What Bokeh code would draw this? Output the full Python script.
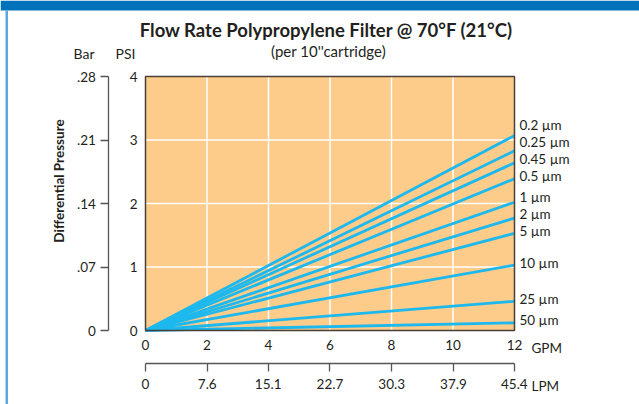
from bokeh.plotting import figure
from bokeh.models import (Range1d, LinearAxis, FixedTicker, Label, LabelSet,
                          ColumnDataSource, BoxAnnotation)
from bokeh.core.properties import value
from bokeh.embed import file_html
from bokeh.resources import INLINE

# ---------------- data ----------------
flow_gpm = [0, 12]                      # GPM at line start / end
grades = ["0.2 µm", "0.25 µm", "0.45 µm", "0.5 µm", "1 µm",
          "2 µm", "5 µm", "10 µm", "25 µm", "50 µm"]
psi_at_0gpm = [0, 0, 0, 0, 0, 0, 0, 0, 0, 0]
psi_at_12gpm = [3.07, 2.83, 2.64, 2.39, 2.02, 1.77, 1.53, 1.03, 0.46, 0.12]

psi_ticks = [0, 1, 2, 3, 4]
bar_ticks = [0, 0.07, 0.14, 0.21, 0.28]
bar_tick_labels = ["0", ".07", ".14", ".21", ".28"]
gpm_ticks = [0, 2, 4, 6, 8, 10, 12]
lpm_ticks = [0, 7.6, 15.1, 22.7, 30.3, 37.9, 45.4]
lpm_tick_labels = ["0", "7.6", "15.1", "22.7", "30.3", "37.9", "45.4"]
GPM_TO_LPM = 3.785
PSI_TO_BAR = 0.07

TITLE = "Flow Rate Polypropylene Filter @ 70°F (21°C)"
SUBTITLE = "(per 10''cartridge)"

# ---------------- style / layout ----------------
FONT = "Lato"
TXT = "#231f20"
ORANGE = "#FDCB8A"
CYAN = "#1DB9EE"
DARK = "#4a4038"
AXC = "#555555"
TICK_FS = "13.5px"

W, H = 639, 404
FL, FR, FT, FB = 145, 514, 76, 330          # plot area in canvas pixels
x_max = flow_gpm[-1]
y_max = psi_ticks[-1]
ppx = (FR - FL) / x_max
ppy = (FB - FT) / y_max


def X(px):
    return (px - FL) / ppx


def Y(py):
    return (FB - py) / ppy


x0, x1 = X(0), X(W)
y0, y1 = Y(H), Y(0)

p = figure(width=W, height=H, x_range=Range1d(x0, x1), y_range=Range1d(y0, y1),
           output_backend="svg", toolbar_location=None,
           min_border_left=0, min_border_right=0, min_border_top=0, min_border_bottom=0,
           background_fill_color="white", border_fill_color="white",
           outline_line_color=None)
p.title.visible = False
p.grid.visible = False

# plot area
p.quad(left=[0], right=[x_max], bottom=[0], top=[y_max], fill_color=ORANGE, line_color=None)
p.segment(x0=gpm_ticks[1:-1], y0=[0] * 5, x1=gpm_ticks[1:-1], y1=[y_max] * 5,
          line_color="white", line_width=1.5)
p.segment(x0=[0] * 3, y0=psi_ticks[1:-1], x1=[x_max] * 3, y1=psi_ticks[1:-1],
          line_color="white", line_width=1.5)

# lines
p.multi_line(xs=[flow_gpm] * len(grades),
             ys=[[a, b] for a, b in zip(psi_at_0gpm, psi_at_12gpm)],
             line_color=CYAN, line_width=2.8)

# frame outline
p.quad(left=[0], right=[x_max], bottom=[0], top=[y_max], fill_color=None,
       line_color=DARK, line_width=1.5)

# PSI axis (at the plot-area edge)
ya = p.yaxis[0]
ya.fixed_location = 0
ya.bounds = (0, y_max)
ya.ticker = FixedTicker(ticks=psi_ticks)
ya.axis_line_color = None
ya.major_tick_out = 0
ya.major_tick_in = 0
ya.minor_tick_out = 0
ya.minor_tick_in = 0
ya.major_label_standoff = 8
ya.major_label_text_font = FONT
ya.major_label_text_font_size = TICK_FS
ya.major_label_text_color = TXT

# Bar axis
p.extra_y_ranges = {"bar": Range1d(y0 * PSI_TO_BAR, y1 * PSI_TO_BAR)}
bar_axis = LinearAxis(y_range_name="bar", ticker=FixedTicker(ticks=bar_ticks),
                      fixed_location=X(108.3), bounds=(0, y_max * PSI_TO_BAR),
                      major_label_overrides=dict(zip(bar_ticks, bar_tick_labels)),
                      major_tick_out=8, major_tick_in=0, minor_tick_out=0, minor_tick_in=0,
                      axis_line_color=AXC, major_tick_line_color=AXC,
                      axis_line_width=1.3, major_tick_line_width=1.3,
                      major_label_standoff=5, major_label_text_font=FONT,
                      major_label_text_font_size=TICK_FS, major_label_text_color=TXT)
p.add_layout(bar_axis, "left")

# GPM axis
xa = p.xaxis[0]
xa.fixed_location = 0
xa.bounds = (0, x_max)
xa.ticker = FixedTicker(ticks=gpm_ticks)
xa.axis_line_color = None
xa.major_tick_out = 0
xa.major_tick_in = 0
xa.minor_tick_out = 0
xa.minor_tick_in = 0
xa.major_label_standoff = 9
xa.major_label_text_font = FONT
xa.major_label_text_font_size = TICK_FS
xa.major_label_text_color = TXT

# LPM axis
p.extra_x_ranges = {"lpm": Range1d(x0 * GPM_TO_LPM, x1 * GPM_TO_LPM)}
lpm_axis = LinearAxis(x_range_name="lpm", ticker=FixedTicker(ticks=lpm_ticks),
                      fixed_location=Y(363), bounds=(0, x_max * GPM_TO_LPM),
                      major_label_overrides=dict(zip(lpm_ticks, lpm_tick_labels)),
                      major_tick_out=8, major_tick_in=0, minor_tick_out=0, minor_tick_in=0,
                      axis_line_color=AXC, major_tick_line_color=AXC,
                      axis_line_width=1.3, major_tick_line_width=1.3,
                      major_label_standoff=7, major_label_text_font=FONT,
                      major_label_text_font_size=TICK_FS, major_label_text_color=TXT)
p.add_layout(lpm_axis, "below")

# right-hand labels with simple dodging
gap = 17 / ppy
lift = 2.5 / ppy
order = sorted(range(len(grades)), key=lambda i: psi_at_12gpm[i])
label_y = [0.0] * len(grades)
prev = None
for i in order:
    yv = psi_at_12gpm[i] + lift
    if prev is not None and yv < prev + gap:
        yv = prev + gap
    label_y[i] = yv
    prev = yv
src = ColumnDataSource(dict(x=[x_max] * len(grades), y=label_y, t=grades))
p.add_layout(LabelSet(x="x", y="y", text="t", source=src, x_offset=5,
                      text_baseline="middle", text_align="left",
                      text_font=value(FONT), text_font_size=value(TICK_FS),
                      text_color=TXT))


def lab(text, cx, cy, size, bold=False, align="center", angle=0):
    p.add_layout(Label(x=X(cx), y=Y(cy), text=text,
                       text_font=FONT, text_font_size=size, text_color=TXT,
                       text_font_style="bold" if bold else "normal",
                       text_align=align, text_baseline="middle", angle=angle))


lab(TITLE, 326, 29, "18.5px", bold=True)
lab(SUBTITLE, 328, 50, "15px")
lab("Bar", 83.5, 52.5, "14px")
lab("PSI", 125, 52.5, "14px")
lab("GPM", 531, 347, TICK_FS, align="left")
lab("LPM", 531, 385, TICK_FS, align="left")
lab("Differential Pressure", 58.3, 180.5, "13.5px", bold=True, angle=1.5708)

# decorative band and stripe
p.add_layout(BoxAnnotation(left=x0, right=x1, bottom=Y(10), top=y1,
                           fill_color="#0072BC", fill_alpha=1, line_color=None))
p.add_layout(BoxAnnotation(left=X(5), right=X(7.5), bottom=y0, top=Y(10),
                           fill_color="#5BA8DC", fill_alpha=1, line_color=None))

open("out.html", "w").write(file_html(p, INLINE))
